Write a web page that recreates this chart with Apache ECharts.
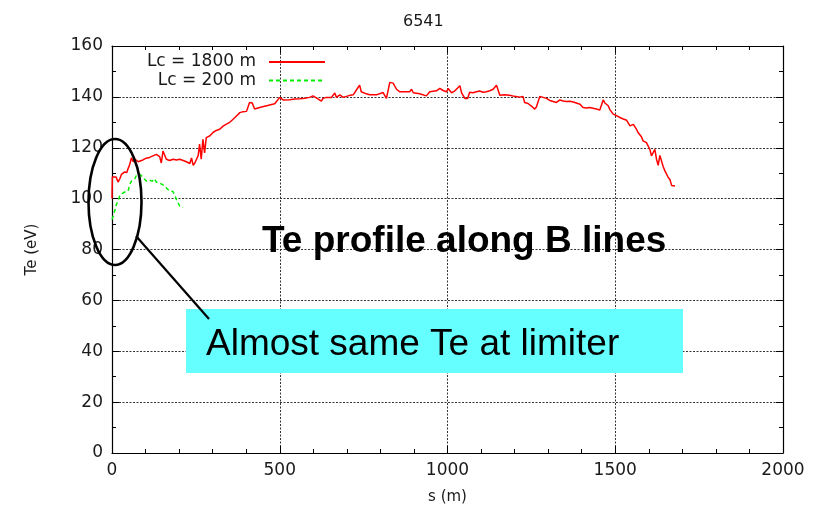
<!DOCTYPE html>
<html>
<head>
<meta charset="utf-8">
<script src="https://cdn.jsdelivr.net/npm/echarts@6/dist/echarts.min.js"></script>
<style>
  html, body { margin: 0; padding: 0; background: #fff; }
  #chart { width: 823px; height: 511px; }
</style>
</head>
<body>
<div id="chart"></div>
<script>
// Shot number and axis labels
const shotTitle = '6541';
const xAxisName = 's (m)';
const yAxisName = 'Te (eV)';

// Electron temperature along field lines, [s (m), Te (eV)]
const seriesNames = ['Lc = 1800 m', 'Lc = 200 m'];

const teLc1800 = [
  [0, 100], [1, 108.5], [12, 108.5], [18, 106.5], [24, 108], [28, 109.5], [33, 110],
  [38, 110.5], [44, 110.3], [48, 111.8], [53, 113.5], [58, 116.1], [63, 114.5], [68, 115.5],
  [73, 115], [78, 114.5], [83, 114.8], [92, 115.2], [102, 115.9], [112, 116.2], [122, 116.8],
  [132, 117.4], [142, 116.5], [147, 114], [152, 118.7], [157, 118.5], [162, 115.5], [167, 115.2],
  [172, 115], [182, 115.5], [192, 115.2], [202, 115.5], [212, 115], [222, 114.5], [232, 113.8],
  [237, 116], [242, 113.1], [247, 114], [252, 115.5], [257, 117], [261, 121.4], [266, 115.5],
  [271, 123.3], [276, 118], [281, 124], [291, 124.6], [301, 126], [311, 126.8], [321, 127.3],
  [331, 128.5], [341, 129.3], [351, 130], [361, 131.2], [371, 132.5], [381, 133.8], [391, 134.2],
  [401, 134.3], [410, 137.8], [418, 137.6], [425, 135.2], [440, 135.8], [455, 136.3], [470, 136.8],
  [485, 137.3], [500, 139.8], [510, 138.8], [530, 138.9], [545, 139.2], [560, 139.3], [575, 139.5],
  [589, 139.8], [599, 140.4], [609, 139.6], [624, 138.3], [629, 139.4], [639, 139.8], [654, 139.8],
  [664, 141.5], [669, 139.8], [679, 140.8], [689, 139.8], [699, 140.2], [709, 140.6], [719, 140.8],
  [729, 142.8], [738, 144.6], [743, 142], [748, 141.6], [758, 141.2], [768, 140.8], [788, 140.8],
  [808, 141.7], [818, 139.4], [828, 145.7], [838, 145.4], [848, 143], [858, 142], [873, 142],
  [887, 142], [893, 143], [898, 141.6], [917, 141.2], [937, 140.4], [947, 142], [957, 142.2],
  [967, 142.4], [977, 143.3], [987, 142.5], [997, 142], [1002, 143.3], [1012, 141.6], [1022, 142.4],
  [1037, 144.4], [1042, 141.6], [1052, 139.4], [1060, 139.4], [1066, 141.8], [1076, 141.6],
  [1086, 142], [1096, 142.3], [1106, 141.8], [1116, 142], [1126, 142.4], [1136, 143], [1146, 144.6],
  [1156, 140.6], [1170, 140.8], [1185, 140.6], [1200, 140.2], [1215, 139.9], [1225, 140.2],
  [1230, 137.8], [1240, 137.4], [1250, 136.4], [1260, 135.2], [1265, 136], [1275, 140.2],
  [1280, 139.5], [1295, 139.4], [1305, 138.6], [1315, 138.2], [1325, 137.8], [1335, 138.8],
  [1345, 138.4], [1355, 138.2], [1365, 138.3], [1375, 138], [1380, 138.4], [1395, 137.1],
  [1404, 135.8], [1414, 135.6], [1424, 135.8], [1434, 135.5], [1444, 135.2], [1454, 134.8],
  [1464, 138.8], [1469, 137.6], [1479, 136.5], [1484, 135], [1494, 133.2], [1504, 132.6],
  [1514, 131.9], [1524, 131.3], [1534, 130.8], [1539, 130.6], [1544, 128.6], [1554, 129.2],
  [1563, 127.3], [1568, 126], [1578, 124.3], [1583, 122.7], [1593, 122], [1603, 119.4],
  [1608, 116.8], [1613, 117.5], [1618, 119.4], [1623, 115.5], [1628, 113.1], [1633, 117],
  [1638, 116.5], [1643, 112.5], [1648, 110.9], [1653, 111.3], [1658, 108.3], [1663, 107.5],
  [1668, 105.2], [1678, 105]
];

const teLc200 = [
  [0, 91.8], [3, 93], [8, 95.1], [13, 97.7], [18, 99], [23, 101], [30, 102], [38, 102.6],
  [48, 103], [53, 105.6], [58, 106.9], [63, 106.5], [68, 107.8], [73, 109.2], [83, 109.6],
  [93, 108.3], [102, 106.9], [107, 107.5], [112, 107.3], [120, 106.8], [127, 107.8], [132, 106.5],
  [137, 106.3], [147, 105.8], [157, 105], [165, 103.8], [172, 103], [182, 102.8], [187, 102.3],
  [192, 99.7], [197, 100], [202, 97], [207, 96.5], [212, 96.5]
];

// Axis ranges
const xRange = { min: 0, max: 2000, step: 500 };
const yRange = { min: 0, max: 160, step: 20 };

// Slide annotations
const headline = 'Te profile along B lines';
const note = 'Almost same Te at limiter';

const plotFont = 'DejaVu Sans';

const chart = echarts.init(document.getElementById('chart'), null, { renderer: 'canvas' });

const frameLine = { show: true, onZero: false, lineStyle: { color: '#000', width: 1.2 } };
const gridLine = { show: true, lineStyle: { color: '#333', width: 1, type: [2, 1.5] } };

function valueAxis(range, pos, withLabels, minorSplit) {
  return {
    type: 'value',
    position: pos,
    min: range.min,
    max: range.max,
    interval: range.step,
    axisLine: frameLine,
    axisTick: { show: true, inside: true, length: 7, lineStyle: { color: '#000' } },
    minorTick: { show: true, splitNumber: minorSplit, length: 4, lineStyle: { color: '#000' } },
    splitLine: withLabels ? gridLine : { show: false },
    axisLabel: withLabels
      ? { show: true, color: '#1a1a1a', fontFamily: plotFont, fontSize: 17, margin: 9,
          formatter: (v) => String(v) }
      : { show: false }
  };
}

const xMain = valueAxis(xRange, 'bottom', true, 5);
xMain.name = xAxisName;
xMain.nameLocation = 'middle';
xMain.nameGap = 37;
xMain.nameTextStyle = { color: '#1a1a1a', fontFamily: plotFont, fontSize: 15 };

const yMain = valueAxis(yRange, 'left', true, 2);
yMain.name = yAxisName;
yMain.nameLocation = 'middle';
yMain.nameGap = 72;
yMain.nameTextStyle = { color: '#1a1a1a', fontFamily: plotFont, fontSize: 15 };

const option = {
  backgroundColor: '#fff',
  animation: false,
  title: {
    text: shotTitle,
    left: 398,
    top: 9,
    textStyle: { color: '#1a1a1a', fontFamily: plotFont, fontSize: 16, fontWeight: 'normal' }
  },
  grid: { left: 112, right: 40, top: 46, bottom: 58, containLabel: false },
  legend: {
    data: seriesNames,
    orient: 'vertical',
    align: 'right',
    right: 497,
    top: 53,
    padding: 0,
    itemWidth: 56,
    itemHeight: 18,
    itemGap: 0.5,
    itemStyle: { opacity: 0 },
    textStyle: { color: '#1a1a1a', fontFamily: plotFont, fontSize: 17, lineHeight: 18, padding: [0, 8, 0, 0] }
  },
  xAxis: [xMain, valueAxis(xRange, 'top', false, 5)],
  yAxis: [yMain, valueAxis(yRange, 'right', false, 2)],
  series: [
    {
      name: seriesNames[0],
      type: 'line',
      data: teLc1800,
      symbol: 'none',
      lineStyle: { color: '#ff0000', width: 1.5 },
      itemStyle: { color: '#ff0000' },
      z: 3
    },
    {
      name: seriesNames[1],
      type: 'line',
      data: teLc200,
      symbol: 'none',
      lineStyle: { color: '#00ee00', width: 1.5, type: [4, 3] },
      itemStyle: { color: '#00ee00' },
      z: 3
    }
  ],
  graphic: [
    {
      type: 'text',
      left: 262,
      top: 223,
      z: 10,
      style: { text: headline, fill: '#000', font: 'bold 37px "Liberation Sans"' }
    },
    {
      type: 'rect',
      z: 10,
      shape: { x: 186, y: 309, width: 497, height: 64 },
      style: { fill: '#66ffff', stroke: null }
    },
    {
      type: 'text',
      left: 206,
      top: 326,
      z: 11,
      style: { text: note, fill: '#000', font: '37px "Liberation Sans"' }
    },
    {
      type: 'ellipse',
      z: 12,
      shape: { cx: 115, cy: 202, rx: 26.5, ry: 63 },
      style: { fill: null, stroke: '#000', lineWidth: 2.6 }
    },
    {
      type: 'line',
      z: 12,
      shape: { x1: 136, y1: 236, x2: 209, y2: 319 },
      style: { stroke: '#000', lineWidth: 2.2 }
    }
  ]
};

chart.setOption(option);
</script>
</body>
</html>
